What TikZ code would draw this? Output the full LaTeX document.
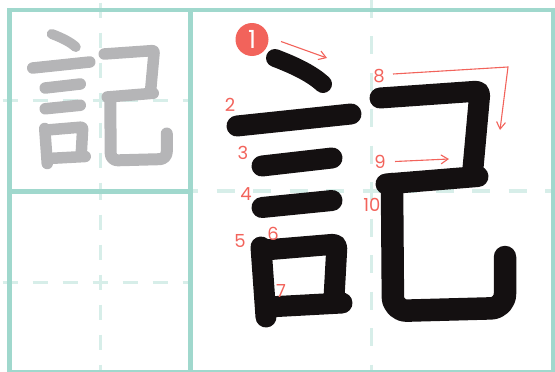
\documentclass[tikz,border=0pt]{standalone}
\usepackage{fontspec}
\usepackage{xcolor}
\usepackage{tikz}
\usetikzlibrary{arrows.meta}
\newfontfamily\numfont{Poppins}
\definecolor{gridline}{HTML}{A0D8CD}
\definecolor{dashline}{HTML}{D7EEE9}
\definecolor{ink}{HTML}{141011}
\definecolor{shadow}{HTML}{B5B5B7}
\definecolor{hint}{HTML}{F2635B}

% the ten strokes of the character, in big-cell coordinates
\newcommand{\kistrokes}{%
  \draw[brush, dotwidth] (275,58) .. controls (296,66) and (312,74) .. (323,84);
  \draw[brush] (237,126) -- (351,114);
  \draw[brush] (262,166) -- (332,158);
  \draw[brush] (262,207.5) -- (332,200.5);
  \draw[brush] (261,247) -- (266,317);
  \draw[brush, rounded corners=4pt] (265,250) -- (337,244) -- (334,298);
  \draw[brush] (268,307) -- (342,303);
  \draw[brush, rounded corners=4pt] (380,98) -- (480,91) -- (473,168);
  \draw[brush] (386,184) -- (478,176.5);
  \draw[brush, hookwidth, rounded corners=14pt] (392,184) -- (393,311) -- (505,308) -- (505,257);
}

\begin{document}
\begin{tikzpicture}[
  x=1pt, y=-1pt,
  frame/.style={draw=gridline, line width=4.5pt},
  midline/.style={draw=dashline, line width=3pt, dash pattern=on 15pt off 15pt},
  bigmid/.style={draw=dashline, line width=3.5pt, dash pattern=on 18pt off 18.5pt},
  brush/.style={draw=ink, line width=21pt, line cap=round, line join=round},
  dotwidth/.style={line width=18pt},
  hookwidth/.style={line width=22.5pt},
  num/.style={text=hint, inner sep=0pt, font=\numfont\fontsize{18}{18}\selectfont},
  hintarrow/.style={draw=hint, line width=1.1pt, -{Straight Barb[length=7pt,width=9pt]}}
]
\useasboundingbox (0,0) rectangle (555,372);

% dashed centre lines
\draw[midline] (2.5,100) -- (190,100);
\draw[midline] (100,2.5) -- (100,190);
\draw[midline] (2.5,282) -- (190,282);
\draw[midline] (100,184.5) -- (100,372);
\draw[bigmid] (180,191) -- (553,191);
\draw[bigmid] (371.5,-0.5) -- (371.5,372);

% cell frames
\draw[frame] (9.5,10) rectangle (553,372.5);
\draw[frame] (190.5,10) -- (190.5,372.5);
\draw[frame] (9.5,191.5) -- (190.5,191.5);

% small grey model
\begin{scope}[transform canvas={shift={(-85.75,5)}, scale=0.5},
              brush/.append style={draw=shadow, line width=23pt},
              dotwidth/.style={line width=20pt},
              hookwidth/.style={line width=24pt}]
  \kistrokes
\end{scope}

% big black character
\kistrokes

% stroke numbers
\node[circle, fill=hint, minimum size=33pt, inner sep=0pt, text=white,
      font=\numfont\fontsize{25}{25}\selectfont] (n1) at (252,39.5) {1};
\node[num] (n2) at (230,105) {2};
\node[num] (n3) at (243,152.5) {3};
\node[num] (n4) at (246,194) {4};
\node[num] (n5) at (240,241.5) {5};
\node[num] (n6) at (273,233.5) {6};
\node[num] (n7) at (281,291) {7};
\node[num] (n8) at (379,76.5) {8};
\node[num] (n9) at (380,162) {9};
\node[num] (n10) at (372,204.5) {10};

% direction arrows
\coordinate (a1s) at (281,41.5);
\coordinate (a1e) at (327,58);
\coordinate (a8s) at (393,74);
\coordinate (a8k) at (508,67);
\coordinate (a8e) at (500,130);
\coordinate (a9s) at (395,161.5);
\coordinate (a9e) at (449,159);
\draw[hintarrow] (a1s) -- (a1e);
\draw[hintarrow] (a8s) -- (a8k) -- (a8e);
\draw[hintarrow] (a9s) -- (a9e);
\end{tikzpicture}
\end{document}
